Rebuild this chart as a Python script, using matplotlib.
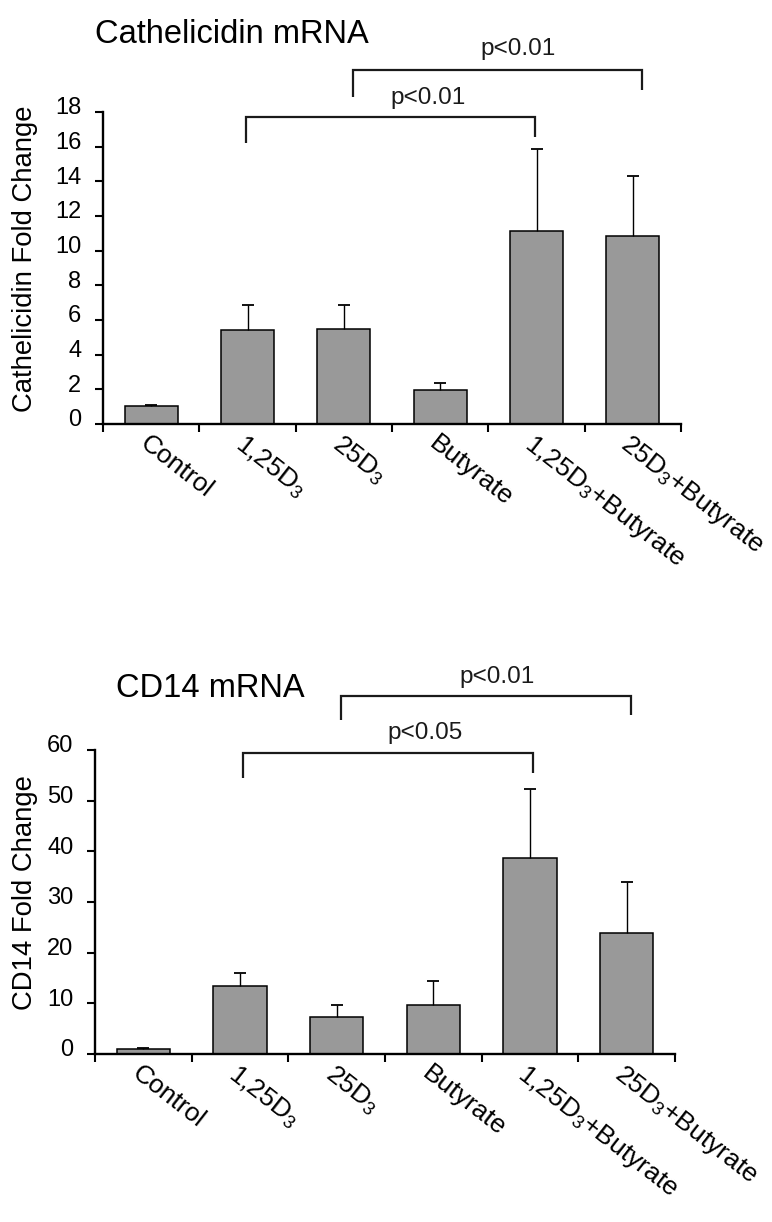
import numpy as np
import matplotlib
matplotlib.use("Agg")
import matplotlib.pyplot as plt
from matplotlib.transforms import ScaledTranslation

plt.rcParams['font.family'] = ['Liberation Sans', 'DejaVu Sans']
plt.rcParams['mathtext.default'] = 'regular'

# ---------------- data ----------------
categories = ['Control', '1,25D$_3$', '25D$_3$', 'Butyrate',
              '1,25D$_3$+Butyrate', '25D$_3$+Butyrate']

cath_means = [1.02, 5.40, 5.50, 1.95, 11.15, 10.85]
cath_err = [0.05, 1.45, 1.35, 0.40, 4.70, 3.47]
cath_yticks = [0, 2, 4, 6, 8, 10, 12, 14, 16, 18]
cath_pairs = [(1, 4), (2, 5)]
cath_plabels = ['p<0.01', 'p<0.01']

cd14_means = [0.99, 13.4, 7.37, 9.67, 38.6, 23.8]
cd14_err = [0.15, 2.65, 2.30, 4.73, 13.8, 10.1]
cd14_yticks = [0, 10, 20, 30, 40, 50, 60]
cd14_pairs = [(1, 4), (2, 5)]
cd14_plabels = ['p<0.05', 'p<0.01']

# ---------------- figure ----------------
W, H = 772, 1222
fig = plt.figure(figsize=(W / 100, H / 100), dpi=100)
ax1 = fig.add_axes([103 / W, 1 - 424 / H, 578 / W, 312 / H])
ax2 = fig.add_axes([95 / W, 1 - 1054 / H, 580 / W, 304 / H])


def draw(ax, means, errs, yticks, ylabel, pairs, plabels, geom):
    x = np.arange(len(means))
    ax.bar(x, means, width=0.55, color='#999999', edgecolor='black',
           linewidth=1.1, zorder=2)
    eb = ax.errorbar(x, means, yerr=[np.zeros(len(errs)), errs], fmt='none',
                     ecolor='black', elinewidth=1.0, capsize=4, capthick=1.3,
                     zorder=3)
    eb[1][0].set_visible(False)   # no cap at the bar top
    ax.set_xlim(-0.5, len(means) - 0.5)
    ax.set_ylim(yticks[0], yticks[-1])
    for s in ['top', 'right']:
        ax.spines[s].set_visible(False)
    for s in ['left', 'bottom']:
        ax.spines[s].set_linewidth(1.7)
    ax.set_yticks(yticks)
    ax.tick_params(axis='y', direction='out', length=5.5, width=1.5,
                   labelsize=17, pad=10)
    up = ScaledTranslation(0, 6 / 100, fig.dpi_scale_trans)
    for lab in ax.get_yticklabels():
        lab.set_transform(lab.get_transform() + up)
    # boundary ticks (major) and category labels (minor)
    ax.set_xticks(np.arange(-0.5, len(means), 1.0))
    ax.set_xticklabels([])
    ax.tick_params(axis='x', which='major', direction='out', length=6,
                   width=1.5)
    ax.set_xticks(x, minor=True)
    ax.set_xticklabels(categories, minor=True, rotation=-38, ha='left',
                       va='top', rotation_mode='anchor', fontsize=19)
    ax.tick_params(axis='x', which='minor', length=0, pad=5)
    off = ScaledTranslation(-1 / 100, 0, fig.dpi_scale_trans)
    for lab in ax.get_xticklabels(minor=True):
        lab.set_transform(lab.get_transform() + off)
    ax.set_ylabel(ylabel, fontsize=19.8)
    ax.yaxis.set_label_coords(geom['ylab_x'], 0.53)
    # significance brackets
    for (i, j), txt, g in zip(pairs, plabels, geom['brackets']):
        dx, yl, yt, yr, tx, ty = g
        ax.plot([i + dx, i + dx, j + dx, j + dx], [yl, yt, yt, yr],
                color='#1a1a1a', lw=1.6, clip_on=False, zorder=4,
                solid_capstyle='butt', solid_joinstyle='miter')
        ax.text(tx, ty, txt, ha='center', va='center', fontsize=17.5,
                color='#1a1a1a')


geom1 = dict(ylab_x=-0.112,
             brackets=[(-0.02, 16.2, 17.7, 16.55, 2.87, 18.8),
                       (0.09, 18.87, 20.43, 19.27, 3.81, 21.64)])
geom2 = dict(ylab_x=-0.099,
             brackets=[(0.03, 54.47, 59.46, 55.5, 2.91, 63.3),
                       (0.04, 65.9, 70.65, 66.9, 3.66, 74.4)])

draw(ax1, cath_means, cath_err, cath_yticks, 'Cathelicidin Fold Change',
     cath_pairs, cath_plabels, geom1)
draw(ax2, cd14_means, cd14_err, cd14_yticks, 'CD14 Fold Change',
     cd14_pairs, cd14_plabels, geom2)

fig.text(95 / W, 1 - 43 / H, 'Cathelicidin mRNA', fontsize=23.5,
         ha='left', va='baseline')
fig.text(116 / W, 1 - 697 / H, 'CD14 mRNA', fontsize=23.5,
         ha='left', va='baseline')

fig.savefig('out.png', dpi=100)
